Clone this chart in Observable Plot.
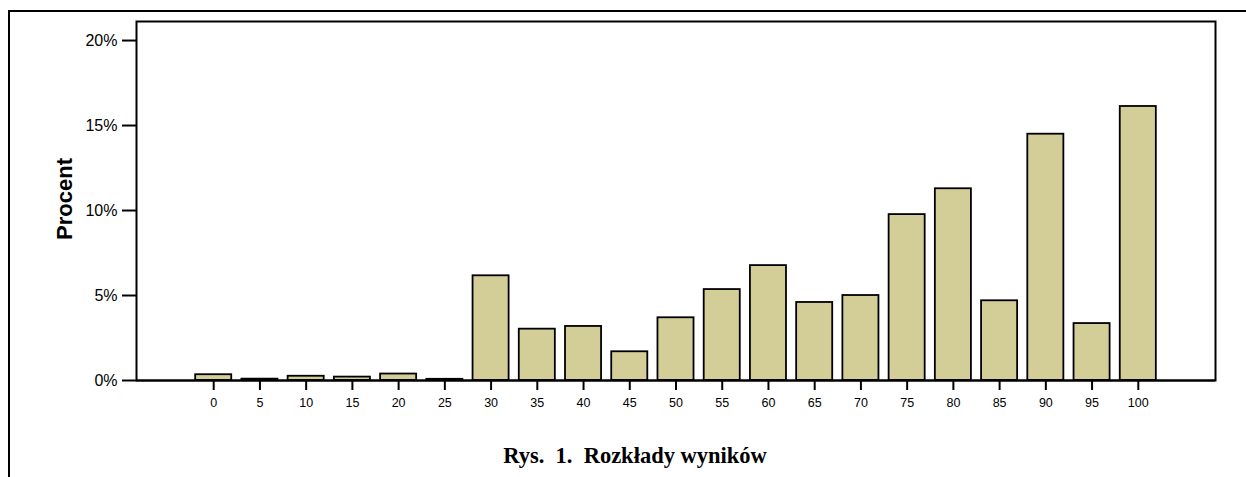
<!DOCTYPE html>
<html>
<head>
<meta charset="utf-8">
<script src="https://cdn.jsdelivr.net/npm/d3@7"></script>
<script src="https://cdn.jsdelivr.net/npm/@observablehq/plot@0.6"></script>
<style>
  html, body { margin: 0; padding: 0; background: white; }
  body { width: 1246px; height: 477px; position: relative; overflow: hidden; }
  #outer { position: absolute; left: 8px; top: 10px; width: 1300px; height: 500px;
           border-left: 2px solid black; border-top: 2px solid black; box-sizing: border-box; }
  #chart { position: absolute; left: 0; top: 0; }
  #caption { position: absolute; left: 435px; width: 400px; top: 445px; text-align: center;
             font-family: "Liberation Serif", "Times New Roman", serif; font-weight: bold;
             font-size: 22.5px; line-height: 22px; white-space: pre; color: black; }
</style>
</head>
<body>
<div id="outer"></div>
<div id="chart"></div>
<div id="caption"></div>
<script>
const categories = ["0","5","10","15","20","25","30","35","40","45","50","55","60","65","70","75","80","85","90","95","100"];
const percents = [0.34, 0.08, 0.25, 0.20, 0.38, 0.07, 6.16, 3.02, 3.18, 1.69, 3.69, 5.35, 6.76, 4.59, 5.00, 9.76, 11.28, 4.69, 14.49, 3.35, 16.12];
const yTicks = [0, 5, 10, 15, 20];
const yLabel = "Procent";
const captionText = "Rys.  1.  Rozkłady wyników";

const data = categories.map((c, i) => ({category: c, value: percents[i]}));

const chart = Plot.plot({
  width: 1246,
  height: 477,
  marginLeft: 136,
  marginRight: 31,
  marginTop: 21,
  marginBottom: 97,
  style: {fontFamily: "Liberation Sans, Arial, sans-serif", color: "black", background: "transparent", overflow: "visible"},
  x: {type: "band", domain: categories, paddingInner: 0.22, paddingOuter: 1.28, round: false},
  y: {domain: [0, 21.12]},
  marks: [
    Plot.barY(data, {x: "category", y: "value", fill: "#d3ce98", stroke: "black", strokeWidth: 1.8}),
    Plot.frame({stroke: "black", strokeWidth: 2}),
    Plot.ruleY([0], {stroke: "black", strokeWidth: 2}),
    Plot.axisX({tickSize: 10, tickPadding: 8, fontSize: 12.5, strokeWidth: 2, label: null}),
    Plot.axisY({ticks: yTicks, tickSize: 14, tickPadding: 5, fontSize: 16, strokeWidth: 2,
                tickFormat: d => d + "%", label: null}),
    Plot.text([yLabel], {frameAnchor: "left", dx: -72, dy: -2, rotate: -90, text: d => d,
                         fontSize: 22, fontWeight: "bold", fill: "black", textAnchor: "middle", lineAnchor: "middle"})
  ]
});
document.getElementById("chart").appendChild(chart);
document.getElementById("caption").textContent = captionText;
</script>
</body>
</html>
